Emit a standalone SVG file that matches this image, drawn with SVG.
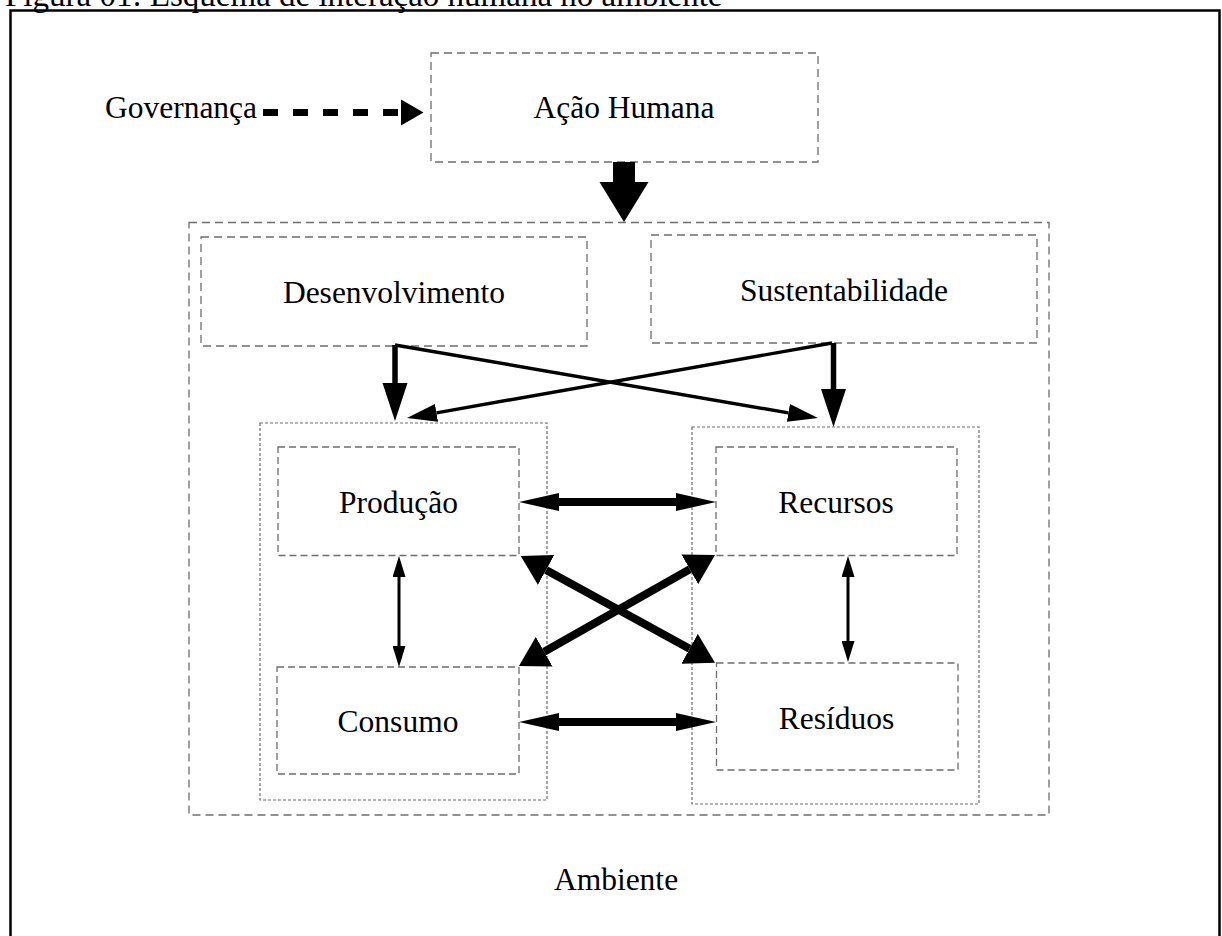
<svg xmlns="http://www.w3.org/2000/svg" width="1222" height="936" viewBox="0 0 1222 936">
<style>
.lbl{font-family:"Liberation Serif","Times New Roman",serif;font-size:31.5px;fill:#000;text-anchor:middle}
.ttl{font-family:"Liberation Serif","Times New Roman",serif;font-size:33px;fill:#000}
.dA{fill:none;stroke:#6e6e6e;stroke-width:1.3;stroke-dasharray:8 5}
.dB{fill:none;stroke:#6e6e6e;stroke-width:1.3;stroke-dasharray:7 4}
.dot{fill:none;stroke:#6e6e6e;stroke-width:1.2;stroke-dasharray:3 2}
.thick{stroke:#000;stroke-width:8;fill:none}
.thin{stroke:#000;stroke-width:3;fill:none}
.mid{stroke:#000;stroke-width:3.4;fill:none}
.vert{stroke:#000;stroke-width:5.5;fill:none}
</style>
<defs>
<marker id="hH" markerUnits="userSpaceOnUse" markerWidth="41" markerHeight="19" refX="0" refY="9.5" orient="auto-start-reverse" viewBox="0 0 41 19"><path d="M0,0.5 L40,9.5 L0,18.5 Z" fill="#000"/></marker>
<marker id="hD" markerUnits="userSpaceOnUse" markerWidth="30" markerHeight="34" refX="0" refY="17" orient="auto-start-reverse" viewBox="0 0 30 34"><path d="M0,0 L29,17 L0,34 Z" fill="#000"/></marker>
<marker id="hS" markerUnits="userSpaceOnUse" markerWidth="22" markerHeight="13" refX="0" refY="6.5" orient="auto-start-reverse" viewBox="0 0 22 13"><path d="M0,0 L21,6.5 L0,13 Z" fill="#000"/></marker>
<marker id="hT" markerUnits="userSpaceOnUse" markerWidth="31" markerHeight="19" refX="0" refY="9.5" orient="auto" viewBox="0 0 31 19"><path d="M0,0.5 L30,9.5 L0,18.5 Z" fill="#000"/></marker>
<marker id="hV" markerUnits="userSpaceOnUse" markerWidth="39" markerHeight="26" refX="0" refY="13" orient="auto" viewBox="0 0 39 26"><path d="M0,0.5 L38,13 L0,25.5 Z" fill="#000"/></marker>
</defs>
<rect width="1222" height="936" fill="#fff"/>
<text class="ttl" x="5" y="6">Figura 01: Esquema de interação humana no ambiente</text>
<rect id="frame" x="10.5" y="10.5" width="1209" height="940" fill="none" stroke="#000" stroke-width="2.5"/>

<g id="governanca"><text class="lbl" x="181" y="118">Governança</text></g>
<g id="acao-humana"><rect class="dA" x="431" y="53" width="387" height="109"/><text class="lbl" x="624" y="118">Ação Humana</text></g>
<g id="ambiente"><rect class="dA" x="189" y="222.5" width="860" height="592.5"/><text class="lbl" x="616" y="890">Ambiente</text></g>
<g id="desenvolvimento"><rect class="dA" x="201" y="237" width="386" height="109"/><text class="lbl" x="394" y="303">Desenvolvimento</text></g>
<g id="sustentabilidade"><rect class="dA" x="651" y="235" width="386" height="108"/><text class="lbl" x="844" y="301">Sustentabilidade</text></g>
<g id="grupo-esq"><rect class="dot" x="260" y="423" width="287" height="377"/></g>
<g id="grupo-dir"><rect class="dot" x="692" y="427" width="287" height="377"/></g>
<g id="producao"><rect class="dB" x="278" y="447" width="241" height="108.5"/><text class="lbl" x="398.5" y="513">Produção</text></g>
<g id="consumo"><rect class="dB" x="277" y="667" width="242" height="107"/><text class="lbl" x="398" y="732">Consumo</text></g>
<g id="recursos"><rect class="dB" x="716" y="447" width="241" height="108.5"/><text class="lbl" x="836" y="513">Recursos</text></g>
<g id="residuos"><rect class="dB" x="716.5" y="663" width="241.5" height="107"/><text class="lbl" x="836.5" y="729">Resíduos</text></g>

<g id="connectors">
<line x1="263" y1="112.5" x2="400" y2="112.5" stroke="#000" stroke-width="7" stroke-dasharray="15 15"/>
<polygon points="401,99.5 423.5,112.5 401,125.5" fill="#000"/>
<polygon points="613,162 635,162 635,182 648.5,182 624,222 599.5,182 613,182" fill="#000"/>
<line class="vert" x1="395" y1="345" x2="395" y2="383" marker-end="url(#hV)"/>
<line class="vert" x1="833.5" y1="343" x2="833.5" y2="389" marker-end="url(#hV)"/>
<line class="mid" x1="395" y1="345" x2="788.4" y2="412.9" marker-end="url(#hT)"/>
<line class="mid" x1="832" y1="343" x2="436.5" y2="412.8" marker-end="url(#hT)"/>
<line class="thick" x1="559" y1="502" x2="676" y2="502" marker-start="url(#hH)" marker-end="url(#hH)"/>
<line class="thick" x1="559" y1="722" x2="676" y2="722" marker-start="url(#hH)" marker-end="url(#hH)"/>
<line class="thick" x1="546.1" y1="569.9" x2="689.6" y2="648.8" marker-start="url(#hD)" marker-end="url(#hD)"/>
<line class="thick" x1="689.8" y1="569.3" x2="544.2" y2="651.7" marker-start="url(#hD)" marker-end="url(#hD)"/>
<line class="thin" x1="399" y1="577" x2="399" y2="646" marker-start="url(#hS)" marker-end="url(#hS)"/>
<line class="thin" x1="848" y1="577" x2="848" y2="641" marker-start="url(#hS)" marker-end="url(#hS)"/>
</g>
</svg>
